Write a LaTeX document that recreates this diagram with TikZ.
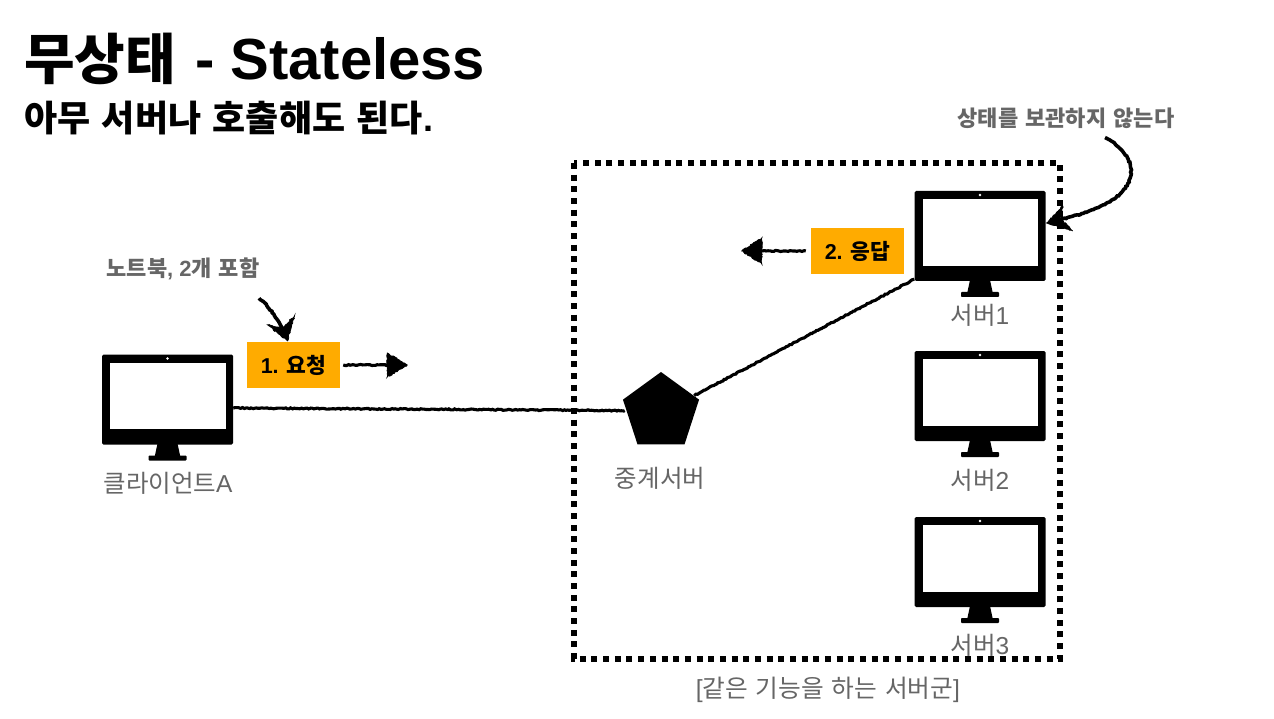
\documentclass[tikz,border=0pt]{standalone}
\usepackage{fontspec}
\setmainfont{Liberation Sans}
\newfontfamily\kr{Noto Sans CJK KR}
\newfontfamily\krw[WordSpace=1.4]{Noto Sans CJK KR}
\newfontfamily\krm{Noto Sans CJK KR Medium}
\usetikzlibrary{shapes.geometric,arrows.meta,decorations.pathmorphing,calc}
\definecolor{lab}{HTML}{666666}
\definecolor{boxc}{HTML}{FFAB00}
\tikzset{
  x=1pt,y=-1pt,
  monbody/.style={fill=black,rounded corners=1.5pt,minimum width=131pt,minimum height=90pt,inner sep=0pt},
  rough/.style={line width=3.1pt,black,decorate,decoration={random steps,segment length=1.8pt,amplitude=0.55pt}},
  roughtip/.style={fill=black,draw=black,line width=0.8pt,line join=miter,decorate,decoration={random steps,segment length=1.6pt,amplitude=0.7pt}},
  badge/.style={fill=boxc,minimum width=93pt,minimum height=46pt,inner sep=0pt,font=\bfseries\fontsize{21.5}{24}\selectfont},
  grouplab/.style={text=lab,font=\fontsize{24.5}{28}\selectfont,inner sep=0pt},
  note/.style={text=lab,font=\bfseries\fontsize{22}{25}\selectfont,inner sep=0pt},
}
\newcommand{\monitor}[3]{%
  \node[monbody] (#1) at (#2,#3) {};
  \fill[white] (#2-57.5,#3-36.7) rectangle (#2+58,#3+29.7);
  \fill[white] (#2,#3-41) circle (1.4pt);
  \fill[black] (#2-10,#3+44) -- (#2+10,#3+44) -- (#2+13,#3+58) -- (#2-13,#3+58) -- cycle;
  \fill[black,rounded corners=0.8pt] (#2-19,#3+56) rectangle (#2+19,#3+61);
}
\begin{document}
\begin{tikzpicture}
\useasboundingbox (0,0) rectangle (1274,719);
\fill[white] (0,0) rectangle (1274,719);
% titles
\node[anchor=west,inner sep=0pt,font=\bfseries\fontsize{58}{62}\selectfont] (title) at (24,59) {{\kr\fontsize{55}{60}\selectfont 무상태}\hspace{3pt} - Stateless};
\node[anchor=west,inner sep=0pt,font=\bfseries\fontsize{36}{40}\selectfont] (sub) at (24,118) {{\krw 아무 서버나 호출해도 된다}.};
% group border
\draw[line width=5.6pt,dash pattern=on 6pt off 5.67pt] (574,163) rectangle (1060,659);
% monitors
\monitor{client}{167.5}{399.5}
\monitor{srv1}{980}{236}
\monitor{srv2}{980}{396}
\monitor{srv3}{980}{562}
\node[regular polygon,regular polygon sides=5,fill=black,minimum size=80pt,inner sep=0pt] (relay) at (661,412) {};
% labels
\node[grouplab] (lclient) at (168,483) {{\kr 클라이언트}A};
\node[grouplab] (lrelay) at (660,478) {\kr 중계서버};
\node[grouplab] (l1) at (980,315) {{\kr 서버}1};
\node[grouplab] (l2) at (980,480) {{\kr 서버}2};
\node[grouplab] (l3) at (980,645) {{\kr 서버}3};
\node[grouplab,font=\fontsize{24.7}{28}\selectfont] (lgroup) at (828,690) {[{\kr 같은 기능을 하는 서버군}]};
\node[note] (n1) at (183,269) {{\kr 노트북}, 2{\kr 개 포함}};
\node[note] (n2) at (1066,118) {\kr 상태를 보관하지 않는다};
\node[badge] (b1) at (293.5,365) {1. {\krm 요청}};
\node[badge] (b2) at (857.5,251) {2. {\krm 응답}};
% connectors
\coordinate (a1s) at ($(b1.east)+(3,0)$);
\coordinate (a1e) at ($(b1.east)+(67,0)$);
\coordinate (a2s) at ($(b2.west)+(-5,0)$);
\coordinate (a2e) at ($(b2.west)+(-69,0)$);
\draw[rough] ($(client.east)+(0,8.5)$) -- ($(relay.corner 2)+(2,11)$);
\draw[rough] ($(relay.corner 5)+(-5,-4)$) -- ($(srv1.south west)+(0,-2)$);
\draw[rough] (a1s) -- ($(a1e)+(-12,0)$);
\path[roughtip] (a1e) -- ++(-20,-12) -- ++(0,24) -- cycle;
\draw[rough] (a2s) -- ($(a2e)+(12,0)$);
\path[roughtip] (a2e) -- ++(20,-13) -- ++(0,26) -- cycle;
\coordinate (c1s) at ($(n1.south)+(76,18)$);
\coordinate (c1e) at ($(b1.north)+(-6,-1)$);
\draw[rough,line width=3.6pt] (c1s) .. controls ($(c1s)+(13,10)$) and ($(c1s)+(20,26)$) .. ($(c1e)+(-2,-8)$);
\path[roughtip] (c1e) -- ($(c1e)+(-20,-16)$) -- ($(c1e)+(-5,-13)$) -- ($(c1e)+(7,-25)$) -- cycle;
\coordinate (c2s) at ($(n2.south)+(39,9)$);
\coordinate (c2e) at ($(srv1.east)+(1,-13)$);
\draw[rough,line width=3.6pt] (c2s) .. controls (1128,150) and (1142,172) .. (1120,194) .. controls (1105,207) and (1090,212) .. ($(c2e)+(12,-3)$);
\path[roughtip] (c2e) -- ($(c2e)+(16,-17)$) -- ($(c2e)+(14,-4)$) -- ($(c2e)+(26,8)$) -- cycle;
\end{tikzpicture}
\end{document}
